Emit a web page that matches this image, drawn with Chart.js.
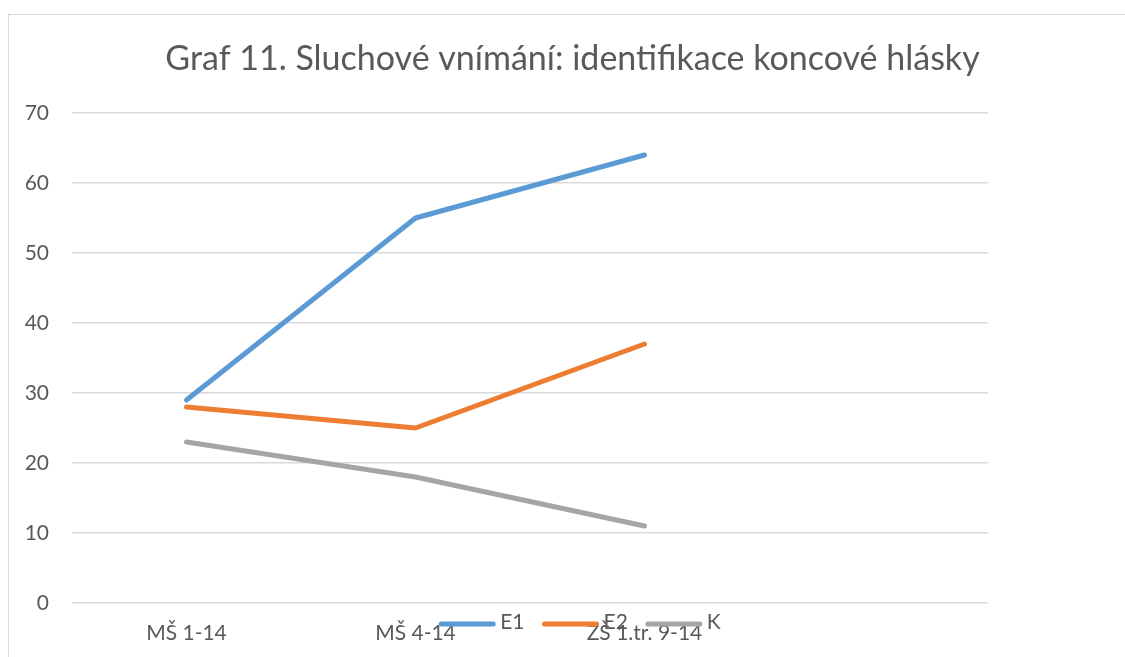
<!DOCTYPE html>
<html>
<head>
<meta charset="utf-8">
<script src="https://cdn.jsdelivr.net/npm/chart.js@4"></script>
<style>
  html, body { margin: 0; padding: 0; background: #ffffff; overflow: hidden; width: 1125px; height: 657px; }
  #frame { position: absolute; left: 8px; top: 14px; width: 1200px; height: 720px; border: 1px solid #d9d9d9; box-sizing: border-box; }
  #c { position: absolute; left: 0; top: 0; }
</style>
</head>
<body>
<div id="frame"></div>
<canvas id="c" width="1145" height="680"></canvas>
<script>
const titleText = "Graf 11. Sluchové vnímání: identifikace koncové hlásky";
const categories = ["MŠ 1-14", "MŠ 4-14", "ZŠ 1.tr. 9-14", ""];
const seriesNames = ["E1", "E2", "K"];
const e1Values = [29, 55, 64];
const e2Values = [28, 25, 37];
const kValues = [23, 18, 11];
const seriesColors = ["#5B9BD5", "#ED7D31", "#A5A5A5"];
const yTicks = [0, 10, 20, 30, 40, 50, 60, 70];

const FONT = "Lato, 'Liberation Sans', sans-serif";
const TEXT = "#595959";

const legendPlugin = {
  id: 'overlapLegend',
  afterDraw(chart) {
    const ctx = chart.ctx;
    const ds = chart.data.datasets;
    const lineLen = 56, gap = 5, spacing = 18;
    ctx.save();
    ctx.font = "21px " + FONT;
    const widths = ds.map(d => lineLen + gap + ctx.measureText(d.label).width);
    const total = widths.reduce((a, b) => a + b, 0) + spacing * (ds.length - 1);
    let x = 580 - total / 2;
    const y = chart.chartArea.bottom + 21;
    ds.forEach((d, i) => {
      ctx.strokeStyle = d.borderColor;
      ctx.lineWidth = 5;
      ctx.lineCap = 'round';
      ctx.beginPath();
      ctx.moveTo(x + 2, y);
      ctx.lineTo(x + lineLen - 2, y);
      ctx.stroke();
      ctx.fillStyle = TEXT;
      ctx.textBaseline = 'middle';
      ctx.textAlign = 'left';
      ctx.fillText(d.label, x + lineLen + gap, y - 2);
      x += widths[i] + spacing;
    });
    ctx.restore();
  }
};

const datasets = [e1Values, e2Values, kValues].map((vals, i) => ({
  label: seriesNames[i],
  data: vals,
  borderColor: seriesColors[i],
  backgroundColor: seriesColors[i],
  borderWidth: 5,
  borderCapStyle: 'round',
  borderJoinStyle: 'round',
  pointRadius: 0,
  pointHoverRadius: 0,
  tension: 0,
  fill: false
}));

new Chart(document.getElementById('c'), {
  type: 'line',
  data: { labels: categories, datasets },
  options: {
    responsive: false,
    animation: false,
    devicePixelRatio: 1,
    layout: { padding: 0 },
    plugins: {
      legend: { display: false },
      tooltip: { enabled: false },
      title: {
        display: true,
        text: titleText,
        color: TEXT,
        font: { family: FONT, size: 34, weight: '400', lineHeight: 1.2 },
        padding: { top: 38.5, bottom: 33.7 }
      }
    },
    scales: {
      x: {
        offset: true,
        grid: { display: false, drawTicks: false },
        border: { display: false },
        ticks: { color: TEXT, font: { family: FONT, size: 21 }, padding: 18, maxRotation: 0, autoSkip: false },
        afterFit(scale) { scale.height = 77; }
      },
      y: {
        min: 0,
        max: 70,
        afterBuildTicks(scale) { scale.ticks = yTicks.map(v => ({ value: v })); },
        grid: { color: '#d9d9d9', lineWidth: 1.5, drawTicks: false },
        border: { display: false },
        ticks: { color: TEXT, font: { family: FONT, size: 21 }, padding: 23 },
        afterFit(scale) { scale.width = 72; }
      },
      yRight: {
        position: 'right',
        display: true,
        min: 0,
        max: 70,
        grid: { display: false, drawTicks: false },
        border: { display: false },
        ticks: { display: false },
        afterFit(scale) { scale.width = 157; }
      }
    }
  },
  plugins: [legendPlugin]
});
</script>
</body>
</html>
